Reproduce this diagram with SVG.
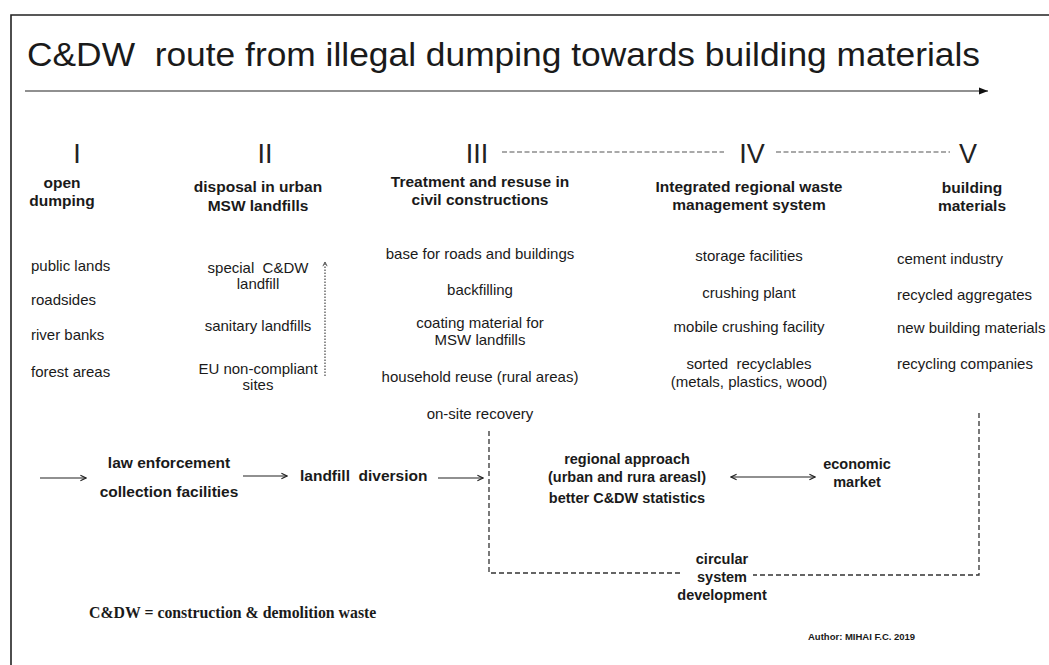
<svg xmlns="http://www.w3.org/2000/svg" width="1049" height="665" viewBox="0 0 1049 665">
<defs>
<style>
text{font-family:"Liberation Sans",Arial,sans-serif;fill:#1a1a1a}
.t{font-size:34px}
.n{font-size:27px;fill:#222}
.h{font-size:15.5px;font-weight:bold;text-anchor:middle}
.g{font-size:14.5px;font-weight:bold;text-anchor:middle}
.i{font-size:15px}
.c{text-anchor:middle}
.b{font-size:15.5px;font-weight:bold}
.ln{stroke:#222;stroke-width:1.2;fill:none}
.dash{stroke:#333;stroke-width:1.3;fill:none;stroke-dasharray:5 3}
.dashg{stroke:#555;stroke-width:1.2;fill:none;stroke-dasharray:5 2.5}
</style>
<marker id="tri" viewBox="0 0 10 10" refX="10" refY="5" markerWidth="9" markerHeight="9" markerUnits="userSpaceOnUse" orient="auto">
<path d="M0,1 L10,5 L0,9 z" fill="#111"/>
</marker>
<marker id="chev" viewBox="0 0 10 10" refX="9" refY="5" markerWidth="8" markerHeight="8" markerUnits="userSpaceOnUse" orient="auto-start-reverse">
<path d="M2,1.5 L9,5 L2,8.5" fill="none" stroke="#222" stroke-width="1.4"/>
</marker>
<marker id="chevs" viewBox="0 0 10 10" refX="9" refY="5" markerWidth="6" markerHeight="6" markerUnits="userSpaceOnUse" orient="auto">
<path d="M2,1.5 L9,5 L2,8.5" fill="none" stroke="#333" stroke-width="1.4"/>
</marker>
</defs>
<rect width="1049" height="665" fill="#fff"/>
<path d="M11,665 V15 H1049" stroke="#222" stroke-width="1.6" fill="none"/>

<g id="title">
<text class="t" x="27" y="66" textLength="953" lengthAdjust="spacingAndGlyphs">C&amp;DW&#160; route from illegal dumping towards building materials</text>
</g>

<g id="connectors">
<line class="ln" x1="25" y1="91" x2="988" y2="91" marker-end="url(#tri)"/>
<line class="dashg" x1="502" y1="152" x2="724" y2="152"/>
<line class="dashg" x1="776" y1="152" x2="950" y2="152"/>
<line x1="325" y1="376" x2="325" y2="262" stroke="#444" stroke-width="1.2" stroke-dasharray="1.5 1.5" marker-end="url(#chevs)"/>
<line class="ln" x1="40" y1="478" x2="86" y2="478" marker-end="url(#chev)"/>
<line class="ln" x1="243" y1="476" x2="287" y2="476" marker-end="url(#chev)"/>
<line class="ln" x1="438" y1="478" x2="483" y2="478" marker-end="url(#chev)"/>
<line class="ln" x1="731" y1="477" x2="815" y2="477" marker-start="url(#chev)" marker-end="url(#chev)"/>
<path class="dash" d="M489,431 V573 H681"/>
<path class="dash" d="M979,413 V575 H753"/>
</g>

<g id="stage-I">
<text class="n c" x="77" y="163">I</text>
<text class="h" x="62" y="188">open</text>
<text class="h" x="62" y="206">dumping</text>
<text class="i" x="31" y="271">public lands</text>
<text class="i" x="31" y="305">roadsides</text>
<text class="i" x="31" y="340">river banks</text>
<text class="i" x="31" y="377">forest areas</text>
</g>

<g id="stage-II">
<text class="n c" x="265" y="163">II</text>
<text class="h" x="258" y="192">disposal in urban</text>
<text class="h" x="258" y="211">MSW landfills</text>
<text class="i c" x="258" y="273">special&#160; C&amp;DW</text>
<text class="i c" x="258" y="289">landfill</text>
<text class="i c" x="258" y="331">sanitary landfills</text>
<text class="i c" x="258" y="374">EU non-compliant</text>
<text class="i c" x="258" y="390">sites</text>
</g>

<g id="stage-III">
<text class="n c" x="477" y="163">III</text>
<text class="h" x="480" y="187">Treatment and resuse in</text>
<text class="h" x="480" y="205">civil constructions</text>
<text class="i c" x="480" y="259">base for roads and buildings</text>
<text class="i c" x="480" y="295">backfilling</text>
<text class="i c" x="480" y="328">coating material for</text>
<text class="i c" x="480" y="345">MSW landfills</text>
<text class="i c" x="480" y="382">household reuse (rural areas)</text>
<text class="i c" x="480" y="419">on-site recovery</text>
</g>

<g id="stage-IV">
<text class="n c" x="752" y="163">IV</text>
<text class="h" x="749" y="192">Integrated regional waste</text>
<text class="h" x="749" y="210">management system</text>
<text class="i c" x="749" y="261">storage facilities</text>
<text class="i c" x="749" y="298">crushing plant</text>
<text class="i c" x="749" y="332">mobile crushing facility</text>
<text class="i c" x="749" y="369">sorted&#160; recyclables</text>
<text class="i c" x="749" y="387">(metals, plastics, wood)</text>
</g>

<g id="stage-V">
<text class="n c" x="968" y="163">V</text>
<text class="h" x="972" y="193">building</text>
<text class="h" x="972" y="211">materials</text>
<text class="i" x="897" y="264">cement industry</text>
<text class="i" x="897" y="300">recycled aggregates</text>
<text class="i" x="897" y="333">new building materials</text>
<text class="i" x="897" y="369">recycling companies</text>
</g>

<g id="law-enforcement">
<text class="h" x="169" y="468">law enforcement</text>
<text class="h" x="169" y="497">collection facilities</text>
</g>
<g id="landfill-diversion">
<text class="b" x="300" y="481">landfill&#160; diversion</text>
</g>
<g id="regional-approach">
<text class="g" x="627" y="464">regional approach</text>
<text class="g" x="627" y="482">(urban and rura areasl)</text>
<text class="g" x="627" y="503">better C&amp;DW statistics</text>
</g>
<g id="economic-market">
<text class="g" x="857" y="469">economic</text>
<text class="g" x="857" y="487">market</text>
</g>
<g id="circular-system">
<text class="g" x="722" y="564">circular</text>
<text class="g" x="722" y="582">system</text>
<text class="g" x="722" y="600">development</text>
</g>
<g id="legend">
<text x="89" y="618" style="font-family:'Liberation Serif','Times New Roman',serif;font-weight:bold;font-size:15.8px">C&amp;DW = construction &amp; demolition waste</text>
</g>
<g id="author">
<text x="808" y="640" style="font-size:9.5px;font-weight:bold">Author: MIHAI F.C. 2019</text>
</g>
</svg>
